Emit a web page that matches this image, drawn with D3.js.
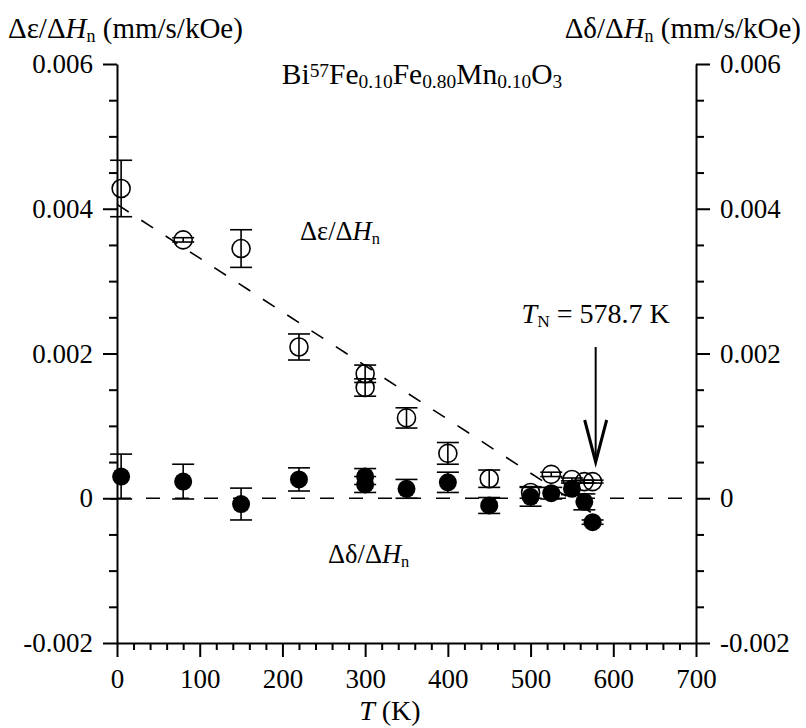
<!DOCTYPE html>
<html>
<head>
<meta charset="utf-8">
<script src="https://cdn.jsdelivr.net/npm/d3@7"></script>
<style>
  body { margin: 0; background: #fff; }
  svg { display: block; }
  svg text { font-family: "Liberation Serif", "DejaVu Serif", serif; fill: #000; }
</style>
</head>
<body>
<svg id="chart" width="806" height="728" font-family="Liberation Serif, DejaVu Serif, serif"></svg>
<script>
// temperatures (K) and values (mm/s/kOe)
const epsT = [5, 80, 150, 220, 300, 300, 350, 400, 450, 500, 525, 550, 565, 575];
const epsV = [0.00428, 0.00357, 0.00345, 0.00209, 0.00172, 0.00153, 0.00111, 0.00062, 0.00027, 0.00008, 0.00033, 0.00026, 0.00023, 0.00023];
const epsErr = [0.00039, 0.00003, 0.00026, 0.00018, 0.00012, 0.00012, 0.00014, 0.00015, 0.00012, 0.00008, 0.00003, 0.00002, 0.00002, 0.00002];

const delT = [5, 80, 150, 220, 300, 300, 350, 400, 450, 500, 525, 550, 565, 575];
const delV = [0.00030, 0.00023, -0.00008, 0.00026, 0.00030, 0.00019, 0.00013, 0.00022, -0.00010, 0.00002, 0.00007, 0.00013, -0.00005, -0.00033];
const delErr = [0.00031, 0.00024, 0.00022, 0.00016, 0.00011, 0.00011, 0.00013, 0.00014, 0.00011, 0.00013, 0.00008, 0.00008, 0.00011, 0.00003];

// guide lines
const epsFitT = [0, 575];
const epsFitV = [0.00406, -0.00021];
const zeroT = [0, 700];
const zeroV = [0, 0];

const TN = 578.7;
const xTicks = [0, 100, 200, 300, 400, 500, 600, 700];
const yTicks = [-0.002, 0, 0.002, 0.004, 0.006];
const yTickLabels = ['-0.002', '0', '0.002', '0.004', '0.006'];

const svg = d3.select('#chart');
const x = d3.scaleLinear().domain([0, 700]).range([117, 696]);
const y = d3.scaleLinear().domain([-0.002, 0.006]).range([643, 64]);
const fs = 26.5;
const serif = '"Liberation Serif", "DejaVu Serif", serif';

// minor ticks
const xMinor = d3.range(0, 701, 20).filter((d) => d % 100 !== 0);
const yMinor = d3.range(-0.002, 0.00601, 0.0005).filter((d) => Math.abs(Math.round(d / 0.0005)) % 4 !== 0);

function styleAxis(g) {
  g.attr('font-family', serif).attr('font-size', 27);
  g.selectAll('path, line').attr('stroke', '#000').attr('stroke-width', 2);
  g.selectAll('text').attr('font-size', 27).style('font-family', serif);
}

svg.append('g')
  .attr('transform', `translate(0,${y(-0.002)})`)
  .call(d3.axisBottom(x).tickValues(xMinor).tickSize(7).tickFormat('').tickSizeOuter(0))
  .call((g) => g.select('.domain').remove())
  .call(styleAxis);
svg.append('g')
  .attr('transform', `translate(0,${y(-0.002)})`)
  .call(d3.axisBottom(x).tickValues(xTicks).tickSize(14).tickPadding(12).tickSizeOuter(0).tickFormat(d3.format('d')))
  .call(styleAxis);

function yAxis(axisFn, xpos) {
  svg.append('g')
    .attr('transform', `translate(${xpos},0)`)
    .call(axisFn(y).tickValues(yMinor).tickSize(8).tickFormat('').tickSizeOuter(0))
    .call((g) => g.select('.domain').remove())
    .call(styleAxis);
  svg.append('g')
    .attr('transform', `translate(${xpos},0)`)
    .call(axisFn(y).tickValues(yTicks).tickSize(14).tickPadding(10).tickSizeOuter(0)
      .tickFormat((d, i) => yTickLabels[i]))
    .call(styleAxis);
}
yAxis(d3.axisLeft, x(0));
yAxis(d3.axisRight, x(700));

// dashed guide lines
const line = d3.line().x((d) => x(d[0])).y((d) => y(d[1]));
svg.append('path')
  .datum(d3.zip(zeroT, zeroV))
  .attr('d', line)
  .attr('fill', 'none').attr('stroke', '#000').attr('stroke-width', 1.6)
  .attr('stroke-dasharray', '14,15');
svg.append('path')
  .datum(d3.zip(epsFitT, epsFitV))
  .attr('d', line)
  .attr('fill', 'none').attr('stroke', '#000').attr('stroke-width', 1.6)
  .attr('stroke-dasharray', '14,15');

// error bars
function errorBars(T, V, E) {
  const g = svg.append('g').attr('stroke', '#000').attr('stroke-width', 1.6);
  T.forEach((t, i) => {
    const cx = x(t);
    const y0 = y(V[i] - E[i]);
    const y1 = y(V[i] + E[i]);
    g.append('line').attr('x1', cx).attr('x2', cx).attr('y1', y0).attr('y2', y1);
    g.append('line').attr('x1', cx - 11).attr('x2', cx + 11).attr('y1', y0).attr('y2', y0);
    g.append('line').attr('x1', cx - 11).attr('x2', cx + 11).attr('y1', y1).attr('y2', y1);
  });
}
errorBars(epsT, epsV, epsErr);
errorBars(delT, delV, delErr);

svg.append('g').selectAll('circle')
  .data(d3.zip(epsT, epsV))
  .join('circle')
  .attr('cx', (d) => x(d[0])).attr('cy', (d) => y(d[1])).attr('r', 9)
  .attr('fill', 'none').attr('stroke', '#000').attr('stroke-width', 1.6);

svg.append('g').selectAll('circle')
  .data(d3.zip(delT, delV))
  .join('circle')
  .attr('cx', (d) => x(d[0])).attr('cy', (d) => y(d[1])).attr('r', 9)
  .attr('fill', '#000');

// T_N arrow
const ax = x(TN);
svg.append('line').attr('x1', ax).attr('x2', ax).attr('y1', 347).attr('y2', 460)
  .attr('stroke', '#000').attr('stroke-width', 2);
svg.append('path')
  .attr('d', `M${ax - 11},420 L${ax},462 L${ax + 11},420`)
  .attr('fill', 'none').attr('stroke', '#000').attr('stroke-width', 3);

// texts
function rich(parent, parts, attrs, size = fs, subScale = 0.62) {
  const t = parent.append('text').attr('font-size', size).style('font-family', serif);
  Object.entries(attrs).forEach(([k, v]) => t.attr(k, v));
  parts.forEach((p) => {
    const s = t.append('tspan').text(p.t);
    if (p.i) s.attr('font-style', 'italic');
    if (p.sub) s.attr('font-size', size * subScale).attr('baseline-shift', '-22%');
    if (p.sup) s.attr('font-size', size * subScale).attr('baseline-shift', '38%');
  });
  return t;
}

rich(svg, [{ t: 'Δε/Δ' }, { t: 'H', i: true }, { t: 'n', sub: true }, { t: ' (mm/s/kOe)' }],
  { x: 8, y: 38 }, 29);
rich(svg, [{ t: 'Δδ/Δ' }, { t: 'H', i: true }, { t: 'n', sub: true }, { t: ' (mm/s/kOe)' }],
  { x: 801, y: 38, 'text-anchor': 'end' }, 29);
rich(svg, [{ t: 'Bi' }, { t: '57', sup: true }, { t: 'Fe' }, { t: '0.10', sub: true }, { t: 'Fe' },
  { t: '0.80', sub: true }, { t: 'Mn' }, { t: '0.10', sub: true }, { t: 'O' }, { t: '3', sub: true }],
  { x: 422, y: 84, 'text-anchor': 'middle' }, 29.5, 0.66);
rich(svg, [{ t: 'Δε/Δ' }, { t: 'H', i: true }, { t: 'n', sub: true }],
  { x: 300, y: 240 });
rich(svg, [{ t: 'Δδ/Δ' }, { t: 'H', i: true }, { t: 'n', sub: true }],
  { x: 328, y: 563 });
rich(svg, [{ t: 'T', i: true }, { t: 'N', sub: true }, { t: ' = 578.7 K' }],
  { x: ax, y: 323, 'text-anchor': 'middle' }, 28);
rich(svg, [{ t: 'T', i: true }, { t: ' (K)' }],
  { x: x(330), y: 720, 'text-anchor': 'middle' }, 28);
</script>
</body>
</html>
